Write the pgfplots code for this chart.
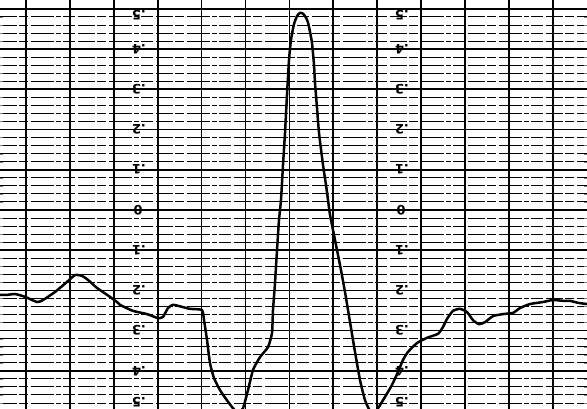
\documentclass[border=0pt]{standalone}
\usepackage{fontspec}
\usepackage{pgfplots}
\pgfplotsset{compat=1.18}
\newfontfamily\labfont{DejaVu Sans}
\tikzset{lab/.style={rotate=180, font=\labfont\bfseries\fontsize{13}{13}\selectfont, inner sep=0.5pt}}
\begin{document}
\begin{tikzpicture}
\begin{axis}[
  scale only axis,
  width=587bp, height=409bp,
  xmin=0, xmax=587,
  ymin=-0.495, ymax=0.522,
  axis line style={draw=none},
  xtick={26,69.9,113.8,157.7,201.6,245.5,289.4,333.3,377.2,421.1,465,508.9,552.8},
  ytick={-0.5,-0.4,-0.3,-0.2,-0.1,0,0.1,0.2,0.3,0.4,0.5},
  minor ytick={-0.48,-0.46,-0.44,-0.42,-0.38,-0.36,-0.34,-0.32,-0.28,-0.26,-0.24,-0.22,-0.18,-0.16,-0.14,-0.12,-0.08,-0.06,-0.04,-0.02,0.02,0.04,0.06,0.08,0.12,0.14,0.16,0.18,0.22,0.24,0.26,0.28,0.32,0.34,0.36,0.38,0.42,0.44,0.46,0.48},
  xmajorticks=false, ymajorticks=false, yminorticks=false,
  xmajorgrids=true, ymajorgrids=true, yminorgrids=true,
  major grid style={black, line width=1.7bp},
  minor grid style={black, line width=0.85bp, dash pattern=on 17bp off 2bp on 9bp off 3bp on 23bp off 2bp on 5bp off 2bp on 12bp off 3bp},
  clip=true,
]
\addplot[black, line width=2.5bp, smooth, tension=0.35] coordinates {
(0,-0.211) (8,-0.211) (15,-0.209) (25,-0.216) (37,-0.229) (43,-0.224)
(55,-0.204) (67,-0.179) (75,-0.162) (82,-0.164) (88,-0.174) (97,-0.194)
(107,-0.211) (117,-0.229) (120,-0.236) (133,-0.251) (147,-0.259) (158,-0.269)
(163,-0.266) (168,-0.244) (173,-0.236) (182,-0.241) (190,-0.246) (202,-0.249)
(204,-0.274) (207,-0.323) (210,-0.381) (214,-0.418) (220,-0.448) (226,-0.470)
(232,-0.490) (238,-0.505) (243,-0.493) (248,-0.448) (253,-0.398) (260,-0.366)
(268,-0.341) (272,-0.306) (273,-0.249) (275,-0.182) (277,-0.100) (279,-0.025)
(281,0.025) (283,0.112) (285,0.192) (287,0.286) (289,0.373) (291,0.423)
(294,0.462) (297,0.482) (300,0.490) (303,0.488) (306,0.478) (308,0.466) (310,0.443)
(312,0.415) (314,0.361) (315,0.316) (317,0.254) (319,0.192) (323,0.112)
(326,0.062) (328,0.025) (330,-0.012) (335,-0.075) (340,-0.137) (345,-0.204)
(350,-0.279) (355,-0.353) (360,-0.423) (365,-0.473) (370,-0.500) (373,-0.507)
(378,-0.493) (385,-0.465) (392,-0.435) (398,-0.403) (403,-0.373) (408,-0.353)
(417,-0.331) (427,-0.318) (438,-0.308) (443,-0.291) (447,-0.271) (453,-0.251)
(460,-0.246) (467,-0.254) (473,-0.274) (479,-0.284) (485,-0.279) (493,-0.264)
(503,-0.259) (513,-0.256) (520,-0.244) (530,-0.234) (543,-0.229) (553,-0.224)
(563,-0.226) (570,-0.226) (578,-0.231) (587,-0.234)
};
\node[lab] at (axis cs:139,0.485) {.5};
\node[lab] at (axis cs:139,0.4) {.4};
\node[lab] at (axis cs:139,0.3) {.3};
\node[lab] at (axis cs:139,0.2) {.2};
\node[lab] at (axis cs:139,0.1) {.1};
\node[lab] at (axis cs:138,0) {0};
\node[lab] at (axis cs:139,-0.1) {.1};
\node[lab] at (axis cs:139,-0.2) {.2};
\node[lab] at (axis cs:139,-0.3) {.3};
\node[lab] at (axis cs:139,-0.4) {.4};
\node[lab] at (axis cs:139,-0.477) {.5};
\node[lab] at (axis cs:402,0.485) {.5};
\node[lab] at (axis cs:402,0.4) {.4};
\node[lab] at (axis cs:402,0.3) {.3};
\node[lab] at (axis cs:402,0.2) {.2};
\node[lab] at (axis cs:402,0.1) {.1};
\node[lab] at (axis cs:401,0) {0};
\node[lab] at (axis cs:402,-0.1) {.1};
\node[lab] at (axis cs:402,-0.2) {.2};
\node[lab] at (axis cs:402,-0.3) {.3};
\node[lab] at (axis cs:402,-0.4) {.4};
\node[lab] at (axis cs:402,-0.477) {.5};
\end{axis}
\pgfresetboundingbox
\useasboundingbox (current axis.south west) rectangle (current axis.north east);
\end{tikzpicture}
\end{document}
